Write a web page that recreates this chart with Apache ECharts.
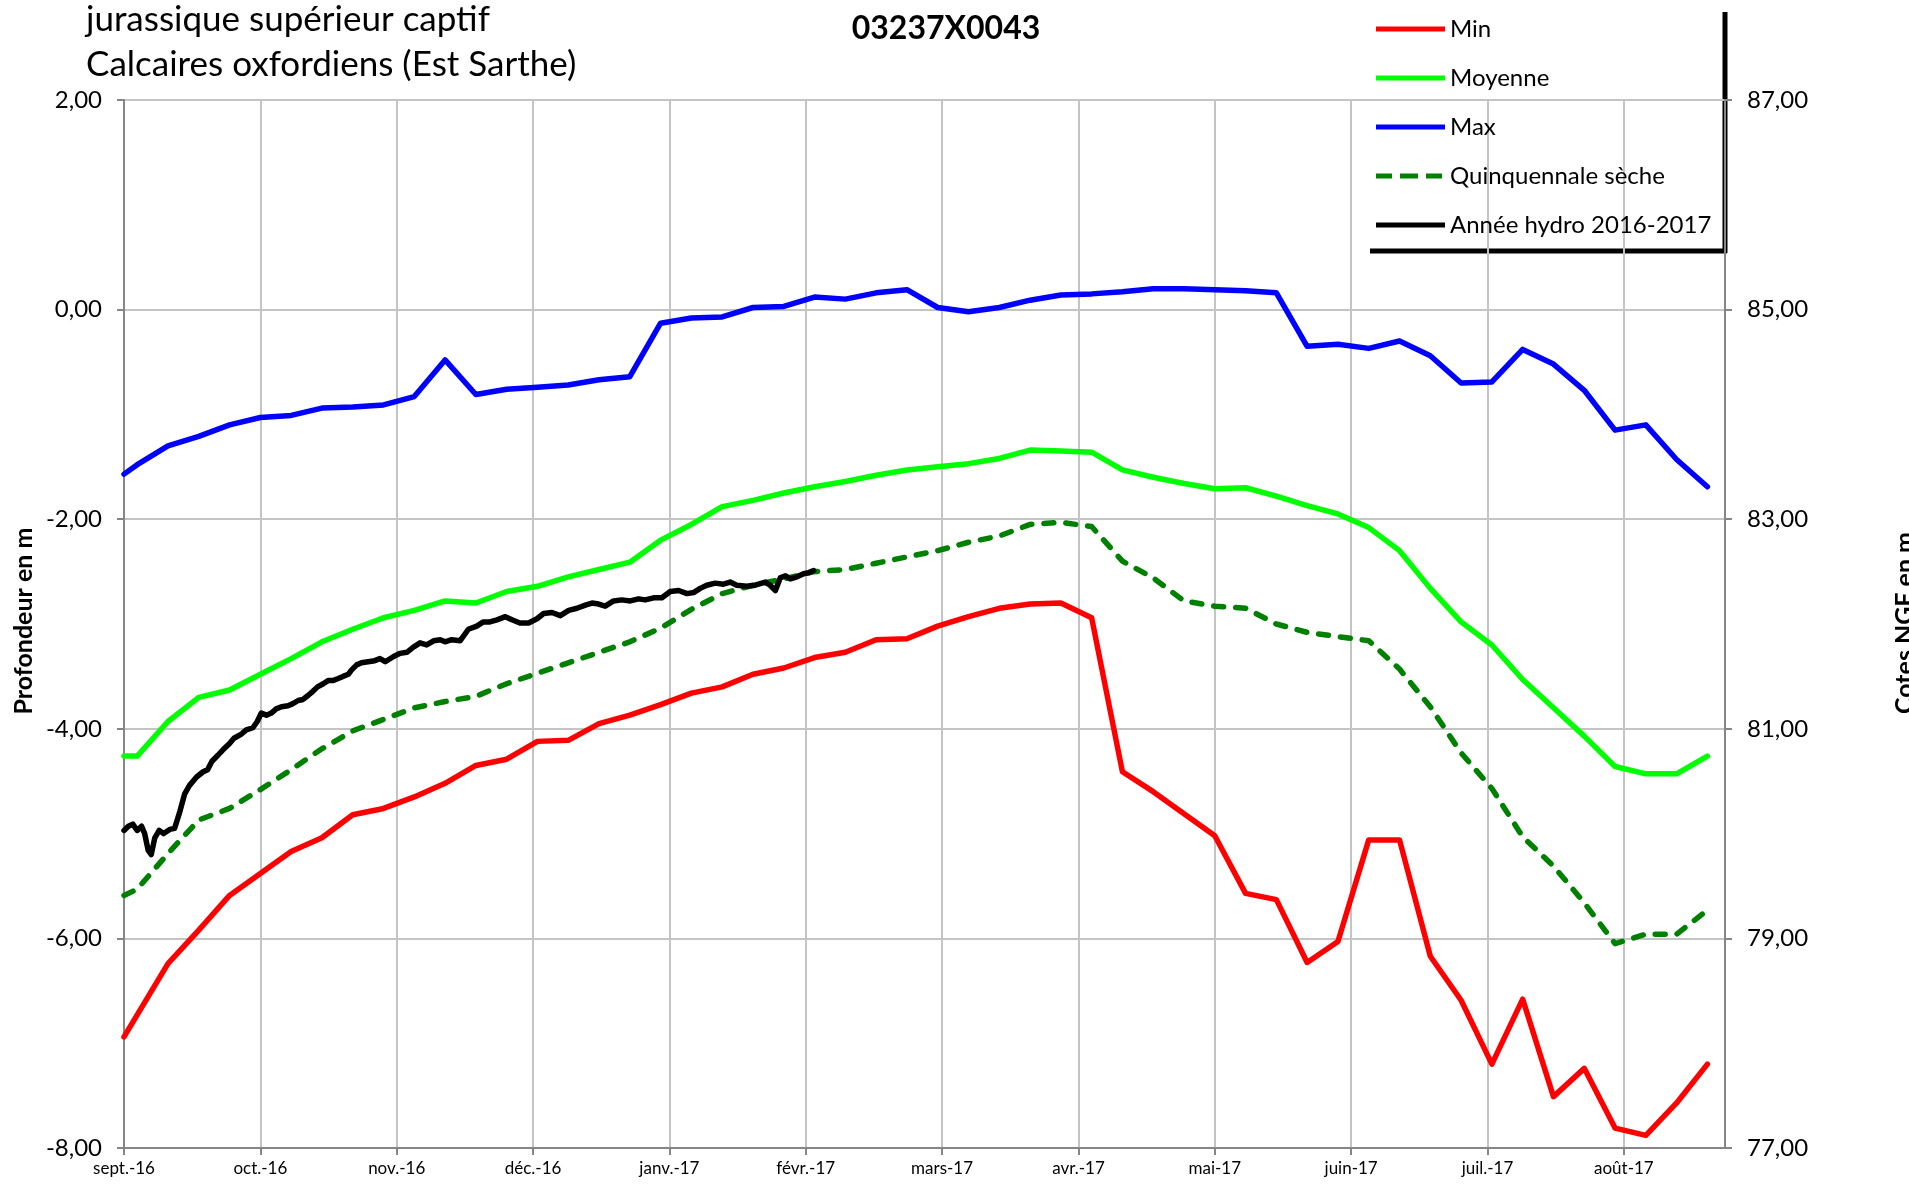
<!DOCTYPE html>
<html>
<head>
<meta charset="utf-8">
<script src="https://cdn.jsdelivr.net/npm/echarts@6/dist/echarts.min.js"></script>
<style>
html,body{margin:0;padding:0;background:#fff;}
#c{width:1909px;height:1185px;}
</style>
</head>
<body>
<div id="c"></div>
<script>
// Month tick labels (one every 31 days on the axis)
const monthLabels = ['sept.-16','oct.-16','nov.-16','déc.-16','janv.-17','févr.-17','mars-17','avr.-17','mai-17','juin-17','juil.-17','août-17'];

// Weekly statistics: day offsets from 1 Sept
const weekDays = [0,3,10,17,24,31,38,45,52,59,66,73,80,87,94,101,108,115,122,129,136,143,150,157,164,171,178,185,192,199,206,213,220,227,234,241,248,255,262,269,276,283,290,297,304,311,318,325,332,339,346,353,360];

const minVals = [-6.94,-6.73,-6.24,-5.92,-5.59,-5.38,-5.17,-5.04,-4.82,-4.76,
  -4.65,-4.52,-4.35,-4.29,-4.12,-4.11,-3.95,-3.87,-3.77,-3.66,
  -3.60,-3.48,-3.42,-3.32,-3.27,-3.15,-3.14,-3.02,-2.93,-2.85,
  -2.81,-2.80,-2.94,-4.41,-4.60,-4.81,-5.02,-5.57,-5.63,-6.23,
  -6.03,-5.06,-5.06,-6.17,-6.59,-7.20,-6.58,-7.51,-7.24,-7.81,
  -7.88,-7.57,-7.20];

const moyVals = [-4.26,-4.26,-3.93,-3.70,-3.63,-3.48,-3.33,-3.17,-3.05,-2.94,
  -2.87,-2.78,-2.80,-2.69,-2.64,-2.55,-2.48,-2.41,-2.20,-2.05,
  -1.88,-1.82,-1.75,-1.69,-1.64,-1.58,-1.53,-1.50,-1.47,-1.42,
  -1.34,-1.35,-1.36,-1.53,-1.60,-1.66,-1.71,-1.70,-1.78,-1.87,
  -1.95,-2.08,-2.30,-2.66,-2.98,-3.20,-3.53,-3.80,-4.07,-4.36,
  -4.43,-4.43,-4.26];

const maxVals = [-1.57,-1.48,-1.30,-1.21,-1.10,-1.03,-1.01,-0.94,-0.93,-0.91,
  -0.83,-0.48,-0.81,-0.76,-0.74,-0.72,-0.67,-0.64,-0.13,-0.08,
  -0.07,0.02,0.03,0.12,0.10,0.16,0.19,0.02,-0.02,0.02,
  0.09,0.14,0.15,0.17,0.20,0.20,0.19,0.18,0.16,-0.35,
  -0.33,-0.37,-0.30,-0.44,-0.70,-0.69,-0.38,-0.52,-0.77,-1.15,
  -1.10,-1.43,-1.69];

const quinqVals = [-5.59,-5.53,-5.19,-4.87,-4.76,-4.58,-4.39,-4.19,-4.02,-3.91,
  -3.80,-3.74,-3.69,-3.57,-3.47,-3.37,-3.27,-3.17,-3.04,-2.86,
  -2.71,-2.63,-2.57,-2.50,-2.48,-2.42,-2.36,-2.30,-2.22,-2.16,
  -2.05,-2.03,-2.07,-2.40,-2.56,-2.78,-2.83,-2.85,-3.00,-3.08,
  -3.12,-3.16,-3.43,-3.79,-4.23,-4.57,-5.03,-5.31,-5.66,-6.05,
  -5.96,-5.96,-5.73];

// Daily hydrological year 2016-2017 (until early February)
const hydroDays = [0,1,2,3,4,4.7,5.5,6.2,7,8,9,10.4,11.5,12.7,13.8,14.9,16.5,18,19,20,
  21.4,22.5,24,25,26.7,27.8,29.3,30.3,31.2,32.4,33.5,34.6,35.8,37.3,38.4,39.6,40.7,41.9,43,44,
  45.3,46.4,47.5,48.7,49.8,51,51.7,52.9,54,55.5,57,58.2,59.4,61.3,62.8,64.3,65.8,67.3,68.8,70.4,
  71.9,73,74.5,76.4,78.3,80.2,81.7,83.2,84.8,86.7,88.2,90,92,93.9,95.4,97.3,99.2,101.1,103,104.9,
  106.4,107.9,109.4,111.3,113.2,115.1,117,118.5,120.4,122.3,124.2,126.1,128,129.5,131,132.5,134.4,136.3,137.8,139.3,
  141.6,143.5,145.8,146.9,148.1,149.2,150.4,151.5,153,154.5,155.7,156.8];
const hydroVals = [-4.97,-4.93,-4.91,-4.97,-4.93,-5.00,-5.16,-5.20,-5.04,-4.97,-5.00,-4.96,-4.95,-4.79,-4.62,-4.54,-4.46,-4.41,-4.39,-4.31,
  -4.25,-4.20,-4.14,-4.09,-4.05,-4.01,-3.99,-3.93,-3.85,-3.87,-3.85,-3.81,-3.79,-3.78,-3.76,-3.73,-3.72,-3.68,-3.64,-3.60,
  -3.57,-3.54,-3.54,-3.52,-3.50,-3.48,-3.44,-3.39,-3.37,-3.36,-3.35,-3.33,-3.36,-3.31,-3.28,-3.27,-3.22,-3.18,-3.20,-3.16,
  -3.15,-3.17,-3.15,-3.16,-3.05,-3.02,-2.98,-2.98,-2.96,-2.93,-2.96,-2.99,-2.99,-2.95,-2.90,-2.89,-2.92,-2.87,-2.85,-2.82,
  -2.80,-2.81,-2.83,-2.78,-2.77,-2.78,-2.76,-2.77,-2.75,-2.75,-2.69,-2.68,-2.71,-2.70,-2.66,-2.63,-2.61,-2.62,-2.60,-2.63,
  -2.64,-2.63,-2.60,-2.63,-2.68,-2.56,-2.54,-2.57,-2.55,-2.52,-2.51,-2.49];

const pairs = (xs, ys) => xs.map((x, i) => [x, ys[i]]);
const fmt = v => v.toFixed(2).replace('.', ',');
const FONT = 'Lato, "Open Sans", sans-serif';
const axisGray = '#868686';
const gridGray = '#c4c4c4';

const chart = echarts.init(document.getElementById('c'), null, {renderer: 'canvas'});

const lineSeries = (name, data, color, width, dashed) => ({
  name: name,
  type: 'line',
  data: data,
  symbol: 'none',
  showSymbol: false,
  smooth: false,
  yAxisIndex: 0,
  lineStyle: {color: color, width: width, type: dashed ? [10, 12] : 'solid', cap: 'round', join: 'round'},
  itemStyle: {color: color},
  emphasis: {disabled: true}
});

const solidIcon = 'path://M0,0h69v5h-69z';
const dashIcon = 'path://M0,0h16v5h-16z M24,0h18v5h-18z M50,0h16v5h-16z M66,0h3v0h-3z';

chart.setOption({
  animation: false,
  textStyle: {fontFamily: FONT},
  grid: {left: 124, right: 184, top: 100, bottom: 37},
  xAxis: {
    type: 'value', min: 0, max: 364, interval: 31,
    axisLine: {show: true, onZero: false, lineStyle: {color: axisGray, width: 2}},
    axisTick: {show: true, length: 7, lineStyle: {color: axisGray, width: 2}},
    axisLabel: {
      fontSize: 17, color: '#000', margin: 12, fontFamily: FONT, showMaxLabel: false,
      formatter: v => (v % 31 === 0 && v / 31 < monthLabels.length) ? monthLabels[v / 31] : ''
    },
    splitLine: {show: true, lineStyle: {color: gridGray, width: 2}}
  },
  yAxis: [
    {
      type: 'value', min: -8, max: 2, interval: 2, position: 'left',
      axisLine: {show: true, onZero: false, lineStyle: {color: axisGray, width: 2}},
      axisTick: {show: true, length: 7, lineStyle: {color: axisGray, width: 2}},
      axisLabel: {formatter: fmt, fontSize: 24, color: '#000', margin: 22, fontFamily: FONT},
      splitLine: {show: true, lineStyle: {color: gridGray, width: 2}}
    },
    {
      type: 'value', min: 77, max: 87, interval: 2, position: 'right',
      axisLine: {show: true, onZero: false, lineStyle: {color: axisGray, width: 2}},
      axisTick: {show: true, length: 7, lineStyle: {color: axisGray, width: 2}},
      axisLabel: {formatter: fmt, fontSize: 24, color: '#000', margin: 22, fontFamily: FONT},
      splitLine: {show: false}
    }
  ],
  legend: {
    orient: 'vertical', left: 1376, top: 17, padding: 0,
    itemWidth: 69, itemHeight: 5, itemGap: 25, symbolKeepAspect: false,
    textStyle: {fontSize: 24, color: '#000', lineHeight: 24, fontFamily: FONT},
    data: [
      {name: 'Min', icon: solidIcon},
      {name: 'Moyenne', icon: solidIcon},
      {name: 'Max', icon: solidIcon},
      {name: 'Quinquennale sèche', icon: dashIcon},
      {name: 'Année hydro 2016-2017', icon: solidIcon}
    ],
    selectedMode: false
  },
  graphic: [
    {type: 'text', x: 86, y: 20, style: {text: 'jurassique supérieur captif', font: '35px ' + FONT, fill: '#000', align: 'left', verticalAlign: 'middle'}},
    {type: 'text', x: 86, y: 65, style: {text: 'Calcaires oxfordiens (Est Sarthe)', font: '35px ' + FONT, fill: '#000', align: 'left', verticalAlign: 'middle'}},
    {type: 'text', x: 946, y: 29, style: {text: '03237X0043', font: 'bold 32px ' + FONT, fill: '#000', align: 'center', verticalAlign: 'middle'}},
    {type: 'text', x: 24, y: 621, rotation: Math.PI / 2, style: {text: 'Profondeur en m', font: 'bold 25px ' + FONT, fill: '#000', align: 'center', verticalAlign: 'middle'}},
    {type: 'text', x: 1905, y: 623, rotation: Math.PI / 2, style: {text: 'Cotes NGF en m', font: 'bold 25px ' + FONT, fill: '#000', align: 'center', verticalAlign: 'middle'}},
    {type: 'line', shape: {x1: 1725, y1: 12, x2: 1725, y2: 253}, style: {stroke: '#000', lineWidth: 5}},
    {type: 'line', shape: {x1: 1370, y1: 251, x2: 1727, y2: 251}, style: {stroke: '#000', lineWidth: 5}}
  ],
  series: [
    lineSeries('Min', pairs(weekDays, minVals), '#ff0000', 5.5, false),
    lineSeries('Moyenne', pairs(weekDays, moyVals), '#00ff00', 5.5, false),
    lineSeries('Max', pairs(weekDays, maxVals), '#0000ff', 5.5, false),
    lineSeries('Quinquennale sèche', pairs(weekDays, quinqVals), '#008000', 5.5, true),
    lineSeries('Année hydro 2016-2017', pairs(hydroDays, hydroVals), '#000000', 5.5, false)
  ]
});
</script>
</body>
</html>
